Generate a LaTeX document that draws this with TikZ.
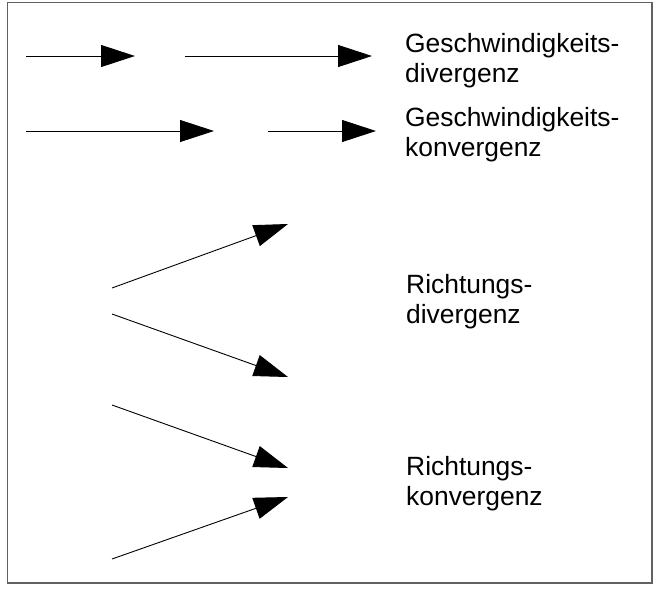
\documentclass[tikz,border=0pt]{standalone}
\usepackage{fontspec}
\setmainfont{Liberation Sans}
\usetikzlibrary{arrows.meta}
\begin{document}
\begin{tikzpicture}[x=1pt,y=-1pt,
  flow/.style={line width=0.9pt,-{Triangle[length=34pt,width=22pt]}},
  label/.style={anchor=base west,inner sep=0pt,align=left,
    font=\fontsize{26.4pt}{30pt}\selectfont},
  frame/.style={draw=black!62,line width=1.6pt}]
  \useasboundingbox (0,0) rectangle (654,590);
  \draw[frame] (7.5,2.5) rectangle (652,583);

  % speed divergence: short vector followed by a longer one
  \coordinate (a1) at (26,56);   \coordinate (b1) at (135,56);
  \coordinate (a2) at (185,56);  \coordinate (b2) at (372,56);
  \draw[flow] (a1) -- (b1);
  \draw[flow] (a2) -- (b2);
  \node[label] (t1) at (405,82) {Geschwindigkeits-\\divergenz};

  % speed convergence: long vector followed by a shorter one
  \coordinate (a3) at (26,131);  \coordinate (b3) at (214,131);
  \coordinate (a4) at (268,131); \coordinate (b4) at (376,131);
  \draw[flow] (a3) -- (b3);
  \draw[flow] (a4) -- (b4);
  \node[label] (t2) at (405,156) {Geschwindigkeits-\\konvergenz};

  % directional divergence: vectors spreading apart
  \coordinate (a5) at (112,288); \coordinate (b5) at (288,224);
  \coordinate (a6) at (112,314); \coordinate (b6) at (288,377);
  \draw[flow] (a5) -- (b5);
  \draw[flow] (a6) -- (b6);
  \node[label] (t3) at (406,323) {Richtungs-\\divergenz};

  % directional convergence: vectors closing in
  \coordinate (a7) at (112,405); \coordinate (b7) at (288,468);
  \coordinate (a8) at (112,559); \coordinate (b8) at (288,497);
  \draw[flow] (a7) -- (b7);
  \draw[flow] (a8) -- (b8);
  \node[label] (t4) at (406,505) {Richtungs-\\konvergenz};
\end{tikzpicture}
\end{document}
